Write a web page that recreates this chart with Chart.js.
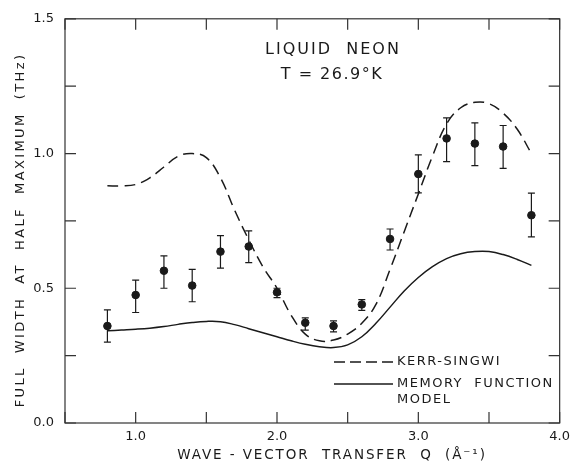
<!DOCTYPE html>
<html>
<head>
<meta charset="utf-8">
<script src="https://cdn.jsdelivr.net/npm/chart.js@4"></script>
<style>
  body { margin: 0; background: #fff; }
</style>
</head>
<body>
<canvas id="chart" width="576" height="466"></canvas>
<script>
// measured points (Q in 1/A, FWHM in THz)
const qPoints = [0.8, 1.0, 1.2, 1.4, 1.6, 1.8, 2.0, 2.2, 2.4, 2.6, 2.8, 3.0, 3.2, 3.4, 3.6, 3.8];
const fwhm    = [0.36, 0.475, 0.565, 0.51, 0.636, 0.655, 0.485, 0.372, 0.36, 0.44, 0.683, 0.924, 1.056, 1.037, 1.026, 0.771];
const errLow  = [0.30, 0.41, 0.50, 0.45, 0.575, 0.595, 0.465, 0.345, 0.338, 0.418, 0.642, 0.854, 0.97, 0.955, 0.945, 0.691];
const errHigh = [0.42, 0.53, 0.62, 0.57, 0.695, 0.713, 0.50, 0.39, 0.379, 0.458, 0.72, 0.995, 1.132, 1.114, 1.104, 0.853];

// theory curves
const qCurve = [0.8, 0.9, 1.0, 1.1, 1.2, 1.3, 1.4, 1.5, 1.6, 1.7, 1.8, 1.9, 2.0, 2.1, 2.2, 2.3, 2.4, 2.5, 2.6, 2.7, 2.8, 2.9, 3.0, 3.1, 3.2, 3.3, 3.4, 3.5, 3.6, 3.7, 3.8];
const kerrSingwi = [0.88, 0.88, 0.885, 0.91, 0.95, 0.99, 1.0, 0.985, 0.91, 0.79, 0.68, 0.58, 0.50, 0.40, 0.33, 0.305, 0.308, 0.33, 0.37, 0.44, 0.57, 0.71, 0.85, 0.99, 1.11, 1.17, 1.19, 1.185, 1.15, 1.09, 1.0];
const memoryFunction = [0.342, 0.345, 0.348, 0.352, 0.358, 0.366, 0.373, 0.377, 0.376, 0.365, 0.35, 0.335, 0.32, 0.305, 0.292, 0.283, 0.28, 0.29, 0.32, 0.37, 0.43, 0.49, 0.54, 0.58, 0.61, 0.628, 0.636, 0.636, 0.625, 0.607, 0.585];

const xLabels = ["1.0", "2.0", "3.0", "4.0"];
const yLabels = ["0.0", "0.5", "1.0", "1.5"];

const FONT = "'DejaVu Sans', sans-serif";
const INK = "#1a1a1a";

function pts(xs, ys) {
  return xs.map((x, i) => ({ x: x, y: ys[i] }));
}

function spacedText(ctx, text, x, y, size, spacing, align) {
  ctx.save();
  ctx.font = size + "px " + FONT;
  ctx.letterSpacing = spacing + "px";
  ctx.fillStyle = INK;
  ctx.textBaseline = "middle";
  let w = ctx.measureText(text).width;
  let sx = align === "center" ? x - w / 2 : x;
  ctx.textAlign = "left";
  ctx.fillText(text, sx, y);
  ctx.restore();
}

const decorations = {
  id: "decorations",
  beforeDatasetsDraw(chart) {
    const { ctx, scales: { x, y } } = chart;
    ctx.save();
    ctx.strokeStyle = INK;
    ctx.lineWidth = 1.2;
    qPoints.forEach((q, i) => {
      const px = x.getPixelForValue(q);
      const lo = y.getPixelForValue(errLow[i]);
      const hi = y.getPixelForValue(errHigh[i]);
      ctx.beginPath();
      ctx.moveTo(px, lo); ctx.lineTo(px, hi);
      ctx.moveTo(px - 3.5, lo); ctx.lineTo(px + 3.5, lo);
      ctx.moveTo(px - 3.5, hi); ctx.lineTo(px + 3.5, hi);
      ctx.stroke();
    });
    ctx.restore();
  },
  afterDraw(chart) {
    const { ctx, chartArea: a, scales: { x, y } } = chart;
    ctx.save();
    // frame
    ctx.strokeStyle = "#333";
    ctx.lineWidth = 1.2;
    ctx.strokeRect(a.left, a.top, a.right - a.left, a.bottom - a.top);
    // inward ticks on all four sides
    ctx.beginPath();
    x.ticks.forEach(t => {
      const px = x.getPixelForValue(t.value);
      ctx.moveTo(px, a.bottom); ctx.lineTo(px, a.bottom - 11);
      ctx.moveTo(px, a.top); ctx.lineTo(px, a.top + 11);
    });
    y.ticks.forEach(t => {
      const py = y.getPixelForValue(t.value);
      ctx.moveTo(a.left, py); ctx.lineTo(a.left + 11, py);
      ctx.moveTo(a.right, py); ctx.lineTo(a.right - 11, py);
    });
    ctx.stroke();
    ctx.restore();

    // titles
    spacedText(ctx, "LIQUID  NEON", 333, 50, 16, 2, "center");
    spacedText(ctx, "T = 26.9°K", 332, 75, 16, 1.5, "center");
    spacedText(ctx, "WAVE - VECTOR  TRANSFER  Q  (Å⁻¹)", 332, 455, 13.5, 1.9, "center");
    ctx.save();
    ctx.translate(21, 230);
    ctx.rotate(-Math.PI / 2);
    spacedText(ctx, "FULL  WIDTH  AT  HALF  MAXIMUM  (THz)", 0, 0, 13, 2.4, "center");
    ctx.restore();

    // legend
    ctx.save();
    ctx.strokeStyle = INK;
    ctx.lineWidth = 1.4;
    ctx.setLineDash([11, 5]);
    ctx.beginPath(); ctx.moveTo(334, 362); ctx.lineTo(393, 362); ctx.stroke();
    ctx.setLineDash([]);
    ctx.beginPath(); ctx.moveTo(334, 384); ctx.lineTo(393, 384); ctx.stroke();
    ctx.restore();
    spacedText(ctx, "KERR-SINGWI", 397, 362, 13, 1.5, "left");
    spacedText(ctx, "MEMORY  FUNCTION", 397, 384, 13, 1.5, "left");
    spacedText(ctx, "MODEL", 397, 400, 13, 1.5, "left");
  }
};

new Chart(document.getElementById("chart"), {
  type: "scatter",
  data: {
    datasets: [
      {
        label: "Kerr-Singwi",
        data: pts(qCurve, kerrSingwi),
        showLine: true,
        borderColor: INK,
        borderWidth: 1.5,
        borderDash: [11, 6],
        pointRadius: 0,
        tension: 0.4,
        fill: false
      },
      {
        label: "Memory function model",
        data: pts(qCurve, memoryFunction),
        showLine: true,
        borderColor: INK,
        borderWidth: 1.5,
        pointRadius: 0,
        tension: 0.4,
        fill: false
      },
      {
        label: "Experiment",
        data: pts(qPoints, fwhm),
        showLine: false,
        pointRadius: 3.8,
        pointBackgroundColor: INK,
        pointBorderColor: INK
      }
    ]
  },
  options: {
    responsive: false,
    animation: false,
    devicePixelRatio: 1,
    layout: { padding: { top: 15, right: 14, left: 0, bottom: 0 } },
    plugins: { legend: { display: false }, tooltip: { enabled: false } },
    scales: {
      x: {
        type: "linear",
        min: 0.5,
        max: 4.0,
        grid: { display: false, drawTicks: false },
        border: { display: false },
        afterFit: s => { s.height = 43; },
        ticks: {
          stepSize: 0.5,
          autoSkip: false,
          maxRotation: 0,
          padding: 6,
          color: INK,
          font: { family: FONT, size: 13 },
          callback: v => xLabels.includes(v.toFixed(1)) ? v.toFixed(1) : ""
        }
      },
      y: {
        min: 0,
        max: 1.5,
        grid: { display: false, drawTicks: false },
        border: { display: false },
        afterFit: s => { s.width = 65; },
        ticks: {
          stepSize: 0.25,
          autoSkip: false,
          padding: 11,
          color: INK,
          font: { family: FONT, size: 13 },
          callback: v => yLabels.includes(v.toFixed(1)) && Math.abs(v * 2 - Math.round(v * 2)) < 1e-9 ? v.toFixed(1) : ""
        }
      }
    }
  },
  plugins: [decorations]
});
</script>
</body>
</html>
